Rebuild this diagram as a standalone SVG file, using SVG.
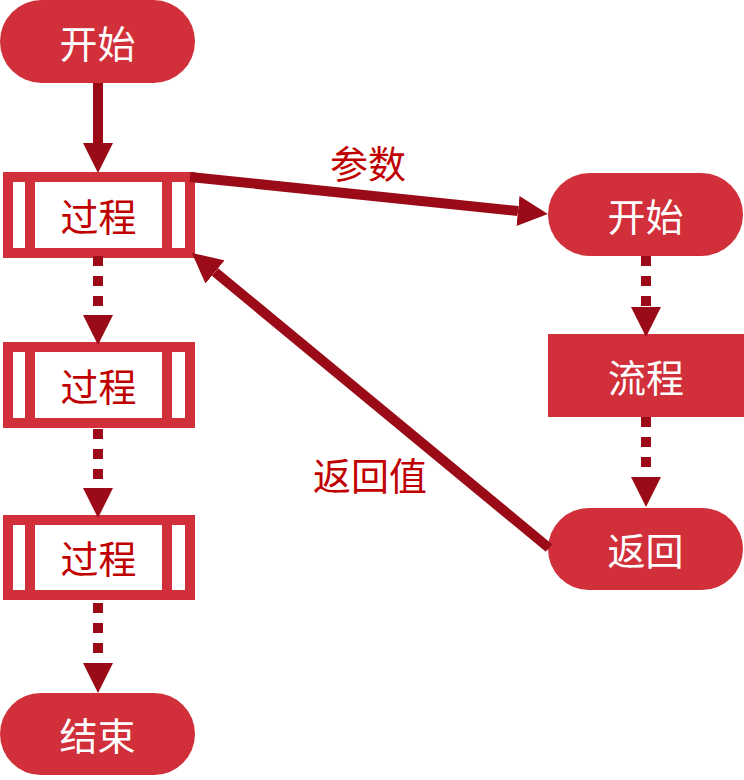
<svg xmlns="http://www.w3.org/2000/svg" width="744" height="780" viewBox="0 0 744 780">
  <defs>
    <style>
      .term { fill: #D1303A; }
      .frame { fill: #FFFFFF; stroke: #D1303A; stroke-width: 10; }
      .bar { stroke: #D1303A; stroke-width: 10; }
      .wtxt { fill: #FFFFFF; font-family: "Noto Sans CJK SC", "Noto Sans", sans-serif; font-size: 38px; text-anchor: middle; dominant-baseline: central; }
      .rtxt { fill: #C00000; font-family: "Noto Sans CJK SC", "Noto Sans", sans-serif; font-size: 38px; text-anchor: middle; dominant-baseline: central; }
      .solid { stroke: #9B0A17; stroke-width: 10; fill: none; marker-end: url(#head); }
      .dotted { stroke: #9B0A17; stroke-width: 10; fill: none; stroke-dasharray: 10 10; marker-end: url(#head); }
    </style>
    <marker id="head" viewBox="0 0 30 30" refX="0" refY="15" markerWidth="30" markerHeight="30" markerUnits="userSpaceOnUse" orient="auto">
      <path d="M0,0 L30,15 L0,30 Z" fill="#9B0A17"/>
    </marker>
  </defs>

  <!-- main flow -->
  <g id="start">
    <rect class="term" x="0" y="0" width="195" height="83" rx="41.5"/>
    <text class="wtxt" x="97.5" y="41">开始</text>
  </g>
  <g id="proc1">
    <rect class="frame" x="8" y="177" width="182" height="76"/>
    <line class="bar" x1="30" y1="177" x2="30" y2="253"/>
    <line class="bar" x1="167" y1="177" x2="167" y2="253"/>
    <text class="rtxt" x="98.5" y="214">过程</text>
  </g>
  <g id="proc2">
    <rect class="frame" x="8" y="347" width="182" height="76"/>
    <line class="bar" x1="30" y1="347" x2="30" y2="423"/>
    <line class="bar" x1="167" y1="347" x2="167" y2="423"/>
    <text class="rtxt" x="98.5" y="384">过程</text>
  </g>
  <g id="proc3">
    <rect class="frame" x="8" y="520" width="182" height="75"/>
    <line class="bar" x1="30" y1="520" x2="30" y2="595"/>
    <line class="bar" x1="167" y1="520" x2="167" y2="595"/>
    <text class="rtxt" x="98.5" y="556">过程</text>
  </g>
  <g id="end">
    <rect class="term" x="0" y="693" width="195" height="82" rx="41"/>
    <text class="wtxt" x="97.5" y="733">结束</text>
  </g>

  <!-- sub flow -->
  <g id="sub-start">
    <rect class="term" x="548" y="173" width="195" height="83" rx="41.5"/>
    <text class="wtxt" x="645.5" y="214">开始</text>
  </g>
  <g id="sub-proc">
    <rect class="term" x="548" y="334" width="196" height="83"/>
    <text class="wtxt" x="646" y="375">流程</text>
  </g>
  <g id="sub-return">
    <rect class="term" x="548" y="508" width="195" height="82" rx="41"/>
    <text class="wtxt" x="645.5" y="548">返回</text>
  </g>

  <!-- connectors -->
  <g id="connectors">
    <line class="solid" x1="98" y1="83" x2="98" y2="143"/>
    <line class="dotted" x1="98" y1="256" x2="98" y2="315"/>
    <line class="dotted" x1="98" y1="429" x2="98" y2="488"/>
    <line class="dotted" x1="98" y1="603" x2="98" y2="663"/>
    <line class="dotted" x1="646" y1="256" x2="646" y2="307"/>
    <line class="dotted" x1="646" y1="417" x2="646" y2="477"/>
    <line class="solid" x1="190" y1="177" x2="518" y2="211"/>
    <line class="solid" x1="549" y1="548" x2="215" y2="272"/>
    <text class="rtxt" x="368" y="161">参数</text>
    <text class="rtxt" x="370" y="473">返回值</text>
  </g>
</svg>
